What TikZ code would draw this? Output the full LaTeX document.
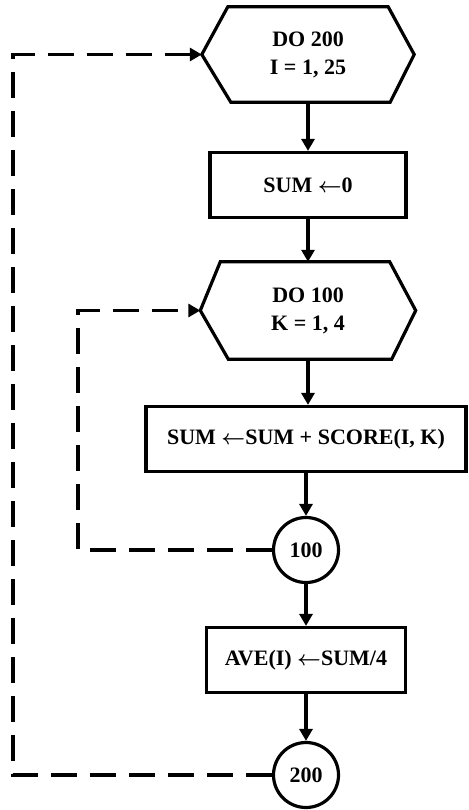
\documentclass[tikz,border=0pt]{standalone}
\usepackage{fontspec}
\setmainfont{Liberation Serif}
\usetikzlibrary{arrows.meta}
\newcommand{\larr}{{\mathversion{bold}$\leftarrow$}}
\begin{document}
\begin{tikzpicture}[x=1pt,y=-1pt,
  flow/.style={line width=3.2pt},
  arr/.style={flow, -{Triangle[length=12pt,width=13pt]}},
  dashloop/.style={line width=3.2pt, dash pattern=on 26pt off 13pt, -{Triangle[length=12pt,width=13pt]}},
  txt/.style={font=\fontsize{22}{28}\selectfont\bfseries, align=center, inner sep=0pt},
  hexnode/.style={txt, minimum width=212pt, minimum height=95pt},
  procbox/.style={txt, draw, line width=3.2pt, minimum height=65pt},
  conn/.style={txt, circle, draw, line width=3.2pt, minimum size=65pt}
]
\useasboundingbox (0,0) rectangle (468,810);

% loop headers (hexagons)
\node[hexnode] (h1) at (308,54.5) {DO 200\\I = 1, 25};
\draw[flow, line join=miter] (h1.west) -- ([xshift=26pt]h1.north west) -- ([xshift=-26pt]h1.north east)
  -- (h1.east) -- ([xshift=-24pt]h1.south east) -- ([xshift=29pt]h1.south west) -- cycle;

\node[procbox, minimum width=196pt] (b1) at (308,185) {SUM \larr 0};

\node[hexnode, minimum width=215pt, minimum height=97pt] (h2) at (308,310.5) {DO 100\\K = 1, 4};
\draw[flow, line join=miter] (h2.west) -- ([xshift=20pt]h2.north west) -- ([xshift=-26pt]h2.north east)
  -- (h2.east) -- ([xshift=-24pt]h2.south east) -- ([xshift=28pt]h2.south west) -- cycle;

\node[procbox, minimum width=320pt] (b2) at (306,439) {SUM \larr SUM + SCORE(I, K)};

\node[conn] (c100) at (306,550) {100};

\node[procbox, minimum width=199pt] (b3) at (306,660) {AVE(I) \larr SUM/4};

\node[conn] (c200) at (306,775) {200};

% solid flow
\draw[arr] (h1.south) -- (b1.north);
\draw[arr] (b1.south) -- (h2.north);
\draw[arr] (h2.south) -- (h2.south |- b2.north);
\draw[arr] (b2.south) -- (c100.north);
\draw[arr] (c100.south) -- (b3.north);
\draw[arr] (b3.south) -- (c200.north);

% dashed loop returns
\coordinate (L1) at (78,0);
\coordinate (L2) at (13,0);
\draw[dashloop] (c100.west) -- (c100.west -| L1) |- (h2.west);
\draw[dashloop] (c200.west) -- (c200.west -| L2) |- (h1.west);
\end{tikzpicture}
\end{document}
